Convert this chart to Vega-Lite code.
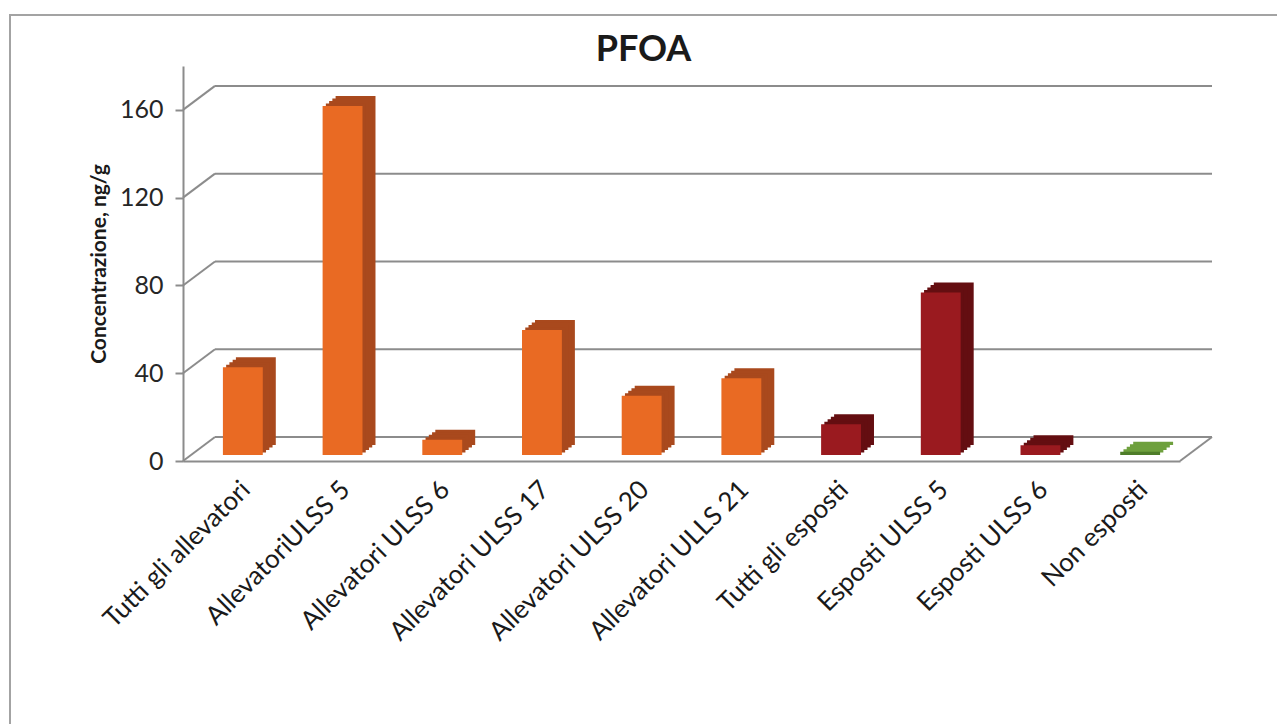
{
  "$schema": "https://vega.github.io/schema/vega-lite/v6.json",
  "width": 1267,
  "height": 709,
  "autosize": {"type": "none"},
  "padding": {"left": 10, "top": 15, "right": 0, "bottom": 0},
  "background": "white",
  "config": {
    "view": {"stroke": "#a3a3a3", "strokeWidth": 2, "strokeDash": [1267, 1976, 709, 1]},
    "font": "Lato"
  },
  "title": {"text": "PFOA", "font": "Lato", "fontSize": 36, "fontWeight": "bold", "color": "#1a1a1a", "anchor": "middle", "frame": "group", "baseline": "alphabetic", "offset": 0, "dy": 82},
  "datasets": {
    "bars": [
      {"category": "Tutti gli allevatori", "value": 40, "group": "Allevatori"},
      {"category": "AllevatoriULSS 5", "value": 159, "group": "Allevatori"},
      {"category": "Allevatori ULSS 6", "value": 7, "group": "Allevatori"},
      {"category": "Allevatori  ULSS 17", "value": 57, "group": "Allevatori"},
      {"category": "Allevatori ULSS 20", "value": 27, "group": "Allevatori"},
      {"category": "Allevatori ULLS 21", "value": 35, "group": "Allevatori"},
      {"category": "Tutti gli esposti", "value": 14, "group": "Esposti"},
      {"category": "Esposti ULSS 5", "value": 74, "group": "Esposti"},
      {"category": "Esposti ULSS 6", "value": 4.5, "group": "Esposti"},
      {"category": "Non esposti", "value": 1.5, "group": "Non esposti"}
    ],
    "ticks": [{"value": 0}, {"value": 40}, {"value": 80}, {"value": 120}, {"value": 160}],
    "floor": [{"value": 0}]
  },
  "resolve": {"scale": {"x": "independent"}},
  "layer": [
    {
      "layer": [
        {
          "data": {"name": "ticks"},
          "mark": {"type": "rule", "color": "#8c8c8c", "strokeWidth": 2, "xOffset": 32, "x2Offset": 32, "yOffset": -24, "y2Offset": -24},
          "encoding": {
            "x": {"datum": 0, "type": "quantitative", "scale": {"domain": [0, 1], "range": [173, 1170]}, "axis": null},
            "x2": {"datum": 1},
            "y": {"field": "value", "type": "quantitative", "scale": {"domain": [0, 180], "range": [446, 51]},
              "axis": {"orient": "left", "offset": -173, "grid": false, "values": [0, 40, 80, 120, 160], "title": "Concentrazione, ng/g",
                "domainColor": "#8c8c8c", "domainWidth": 2, "tickColor": "#8c8c8c", "tickWidth": 2, "tickSize": 8,
                "labelFont": "Lato", "labelFontSize": 25, "labelColor": "#262626", "labelPadding": 12,
                "titleFont": "Lato", "titleFontSize": 21, "titleFontWeight": "bold", "titleColor": "#1a1a1a", "titlePadding": 10}}
          }
        },
        {
          "data": {"name": "ticks"},
          "mark": {"type": "rule", "color": "#8c8c8c", "strokeWidth": 2, "x2Offset": 32, "y2Offset": -24},
          "encoding": {
            "x": {"datum": 0, "type": "quantitative"},
            "x2": {"datum": 0},
            "y": {"field": "value", "type": "quantitative"},
            "y2": {"field": "value"}
          }
        },
        {
          "data": {"name": "floor"},
          "mark": {"type": "rule", "color": "#8c8c8c", "strokeWidth": 2, "x2Offset": 32, "y2Offset": -24},
          "encoding": {
            "x": {"datum": 1, "type": "quantitative"},
            "x2": {"datum": 1},
            "y": {"field": "value", "type": "quantitative"},
            "y2": {"field": "value"}
          }
        }
      ]
    },
    {
      "data": {"name": "bars"},
      "encoding": {
        "x": {
          "field": "category", "type": "nominal", "sort": null,
          "scale": {"range": [173, 1170], "paddingInner": 0.6, "paddingOuter": 0.3},
          "axis": {"orient": "bottom", "offset": -263, "labelAngle": -45, "labelFont": "Lato", "labelFontSize": 26, "labelColor": "#1a1a1a", "labelLimit": 0, "ticks": false, "domainColor": "#8c8c8c", "domainWidth": 2, "title": null, "labelPadding": 15, "labelOffset": 4}
        },
        "y": {"field": "value", "type": "quantitative", "scale": {"domain": [0, 180], "range": [446, 51]},
          "axis": {"orient": "left", "offset": -173, "grid": false, "values": [0, 40, 80, 120, 160], "title": "Concentrazione, ng/g",
            "domainColor": "#8c8c8c", "domainWidth": 2, "tickColor": "#8c8c8c", "tickWidth": 2, "tickSize": 8,
            "labelFont": "Lato", "labelFontSize": 25, "labelColor": "#262626", "labelPadding": 12,
            "titleFont": "Lato", "titleFontSize": 21, "titleFontWeight": "bold", "titleColor": "#1a1a1a", "titlePadding": 10}}
      },
      "layer": [
        {
          "mark": {"type": "bar", "xOffset": 23, "x2Offset": 23, "yOffset": -16, "y2Offset": -16},
          "encoding": {"fill": {"field": "group", "type": "nominal", "scale": {"domain": ["Allevatori", "Esposti", "Non esposti"], "range": ["#A9491D", "#640E11", "#6EA03D"]}, "legend": null}}
        },
        {
          "mark": {"type": "bar", "xOffset": 19.75, "x2Offset": 19.75, "yOffset": -13.5, "y2Offset": -13.5},
          "encoding": {"fill": {"field": "group", "type": "nominal", "legend": null}}
        },
        {
          "mark": {"type": "bar", "xOffset": 16.5, "x2Offset": 16.5, "yOffset": -11, "y2Offset": -11},
          "encoding": {"fill": {"field": "group", "type": "nominal", "legend": null}}
        },
        {
          "mark": {"type": "bar", "xOffset": 13.25, "x2Offset": 13.25, "yOffset": -8.5, "y2Offset": -8.5},
          "encoding": {"fill": {"field": "group", "type": "nominal", "legend": null}}
        },
        {
          "mark": {"type": "bar", "xOffset": 10, "x2Offset": 10, "yOffset": -6, "y2Offset": -6},
          "encoding": {"color": {"field": "group", "type": "nominal", "scale": {"domain": ["Allevatori", "Esposti", "Non esposti"], "range": ["#E96A23", "#9A1A1F", "#4E7D29"]}, "legend": null}}
        }
      ]
    }
  ]
}
